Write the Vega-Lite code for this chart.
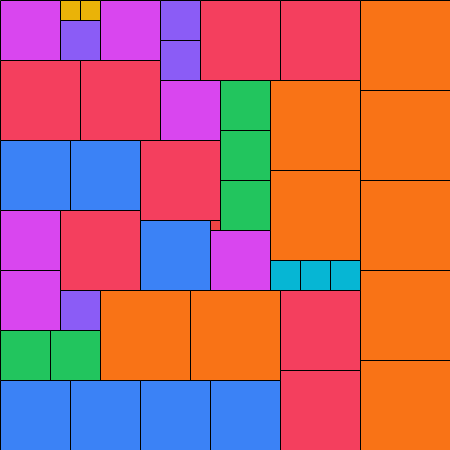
{
  "$schema": "https://vega.github.io/schema/vega-lite/v6.json",
  "autosize": {"type": "none"},
  "width": 450,
  "height": 450,
  "padding": 0,
  "background": "white",
  "config": {"view": {"stroke": null}},
  "data": {"values": [
    {"x0": 0, "x1": 60, "y0": 0, "y1": 60, "c": "magenta"},
    {"x0": 60, "x1": 80, "y0": 0, "y1": 20, "c": "yellow"},
    {"x0": 80, "x1": 100, "y0": 0, "y1": 20, "c": "yellow"},
    {"x0": 60, "x1": 100, "y0": 20, "y1": 60, "c": "purple"},
    {"x0": 100, "x1": 160, "y0": 0, "y1": 60, "c": "magenta"},
    {"x0": 160, "x1": 200, "y0": 0, "y1": 40, "c": "purple"},
    {"x0": 160, "x1": 200, "y0": 40, "y1": 80, "c": "purple"},
    {"x0": 200, "x1": 280, "y0": 0, "y1": 80, "c": "rose"},
    {"x0": 280, "x1": 360, "y0": 0, "y1": 80, "c": "rose"},
    {"x0": 360, "x1": 450, "y0": 0, "y1": 90, "c": "orange"},
    {"x0": 360, "x1": 450, "y0": 90, "y1": 180, "c": "orange"},
    {"x0": 360, "x1": 450, "y0": 180, "y1": 270, "c": "orange"},
    {"x0": 360, "x1": 450, "y0": 270, "y1": 360, "c": "orange"},
    {"x0": 360, "x1": 450, "y0": 360, "y1": 450, "c": "orange"},
    {"x0": 0, "x1": 80, "y0": 60, "y1": 140, "c": "rose"},
    {"x0": 80, "x1": 160, "y0": 60, "y1": 140, "c": "rose"},
    {"x0": 160, "x1": 220, "y0": 80, "y1": 140, "c": "magenta"},
    {"x0": 220, "x1": 270, "y0": 80, "y1": 130, "c": "green"},
    {"x0": 220, "x1": 270, "y0": 130, "y1": 180, "c": "green"},
    {"x0": 220, "x1": 270, "y0": 180, "y1": 230, "c": "green"},
    {"x0": 270, "x1": 360, "y0": 80, "y1": 170, "c": "orange"},
    {"x0": 270, "x1": 360, "y0": 170, "y1": 260, "c": "orange"},
    {"x0": 0, "x1": 70, "y0": 140, "y1": 210, "c": "blue"},
    {"x0": 70, "x1": 140, "y0": 140, "y1": 210, "c": "blue"},
    {"x0": 140, "x1": 220, "y0": 140, "y1": 220, "c": "rose"},
    {"x0": 210, "x1": 220, "y0": 220, "y1": 230, "c": "red"},
    {"x0": 0, "x1": 60, "y0": 210, "y1": 270, "c": "magenta"},
    {"x0": 60, "x1": 140, "y0": 210, "y1": 290, "c": "rose"},
    {"x0": 140, "x1": 210, "y0": 220, "y1": 290, "c": "blue"},
    {"x0": 210, "x1": 270, "y0": 230, "y1": 290, "c": "magenta"},
    {"x0": 270, "x1": 300, "y0": 260, "y1": 290, "c": "cyan"},
    {"x0": 300, "x1": 330, "y0": 260, "y1": 290, "c": "cyan"},
    {"x0": 330, "x1": 360, "y0": 260, "y1": 290, "c": "cyan"},
    {"x0": 0, "x1": 60, "y0": 270, "y1": 330, "c": "magenta"},
    {"x0": 60, "x1": 100, "y0": 290, "y1": 330, "c": "purple"},
    {"x0": 100, "x1": 190, "y0": 290, "y1": 380, "c": "orange"},
    {"x0": 190, "x1": 280, "y0": 290, "y1": 380, "c": "orange"},
    {"x0": 280, "x1": 360, "y0": 290, "y1": 370, "c": "rose"},
    {"x0": 280, "x1": 360, "y0": 370, "y1": 450, "c": "rose"},
    {"x0": 0, "x1": 50, "y0": 330, "y1": 380, "c": "green"},
    {"x0": 50, "x1": 100, "y0": 330, "y1": 380, "c": "green"},
    {"x0": 0, "x1": 70, "y0": 380, "y1": 450, "c": "blue"},
    {"x0": 70, "x1": 140, "y0": 380, "y1": 450, "c": "blue"},
    {"x0": 140, "x1": 210, "y0": 380, "y1": 450, "c": "blue"},
    {"x0": 210, "x1": 280, "y0": 380, "y1": 450, "c": "blue"}
  ]},
  "mark": {"type": "rect", "stroke": "black", "strokeWidth": 1},
  "encoding": {
    "x": {"field": "x0", "type": "quantitative", "scale": {"domain": [-0.5, 449.5], "nice": false, "zero": false}, "axis": null},
    "x2": {"field": "x1"},
    "y": {"field": "y0", "type": "quantitative", "scale": {"domain": [-0.5, 449.5], "nice": false, "zero": false, "reverse": true}, "axis": null},
    "y2": {"field": "y1"},
    "color": {"field": "c", "type": "nominal", "legend": null,
      "scale": {"domain": ["magenta", "yellow", "purple", "rose", "orange", "green", "blue", "red", "cyan"],
                "range": ["#d946ef", "#eab308", "#8b5cf6", "#f43f5e", "#f97316", "#22c55e", "#3b82f6", "#ef4444", "#06b6d4"]}}
  }
}
